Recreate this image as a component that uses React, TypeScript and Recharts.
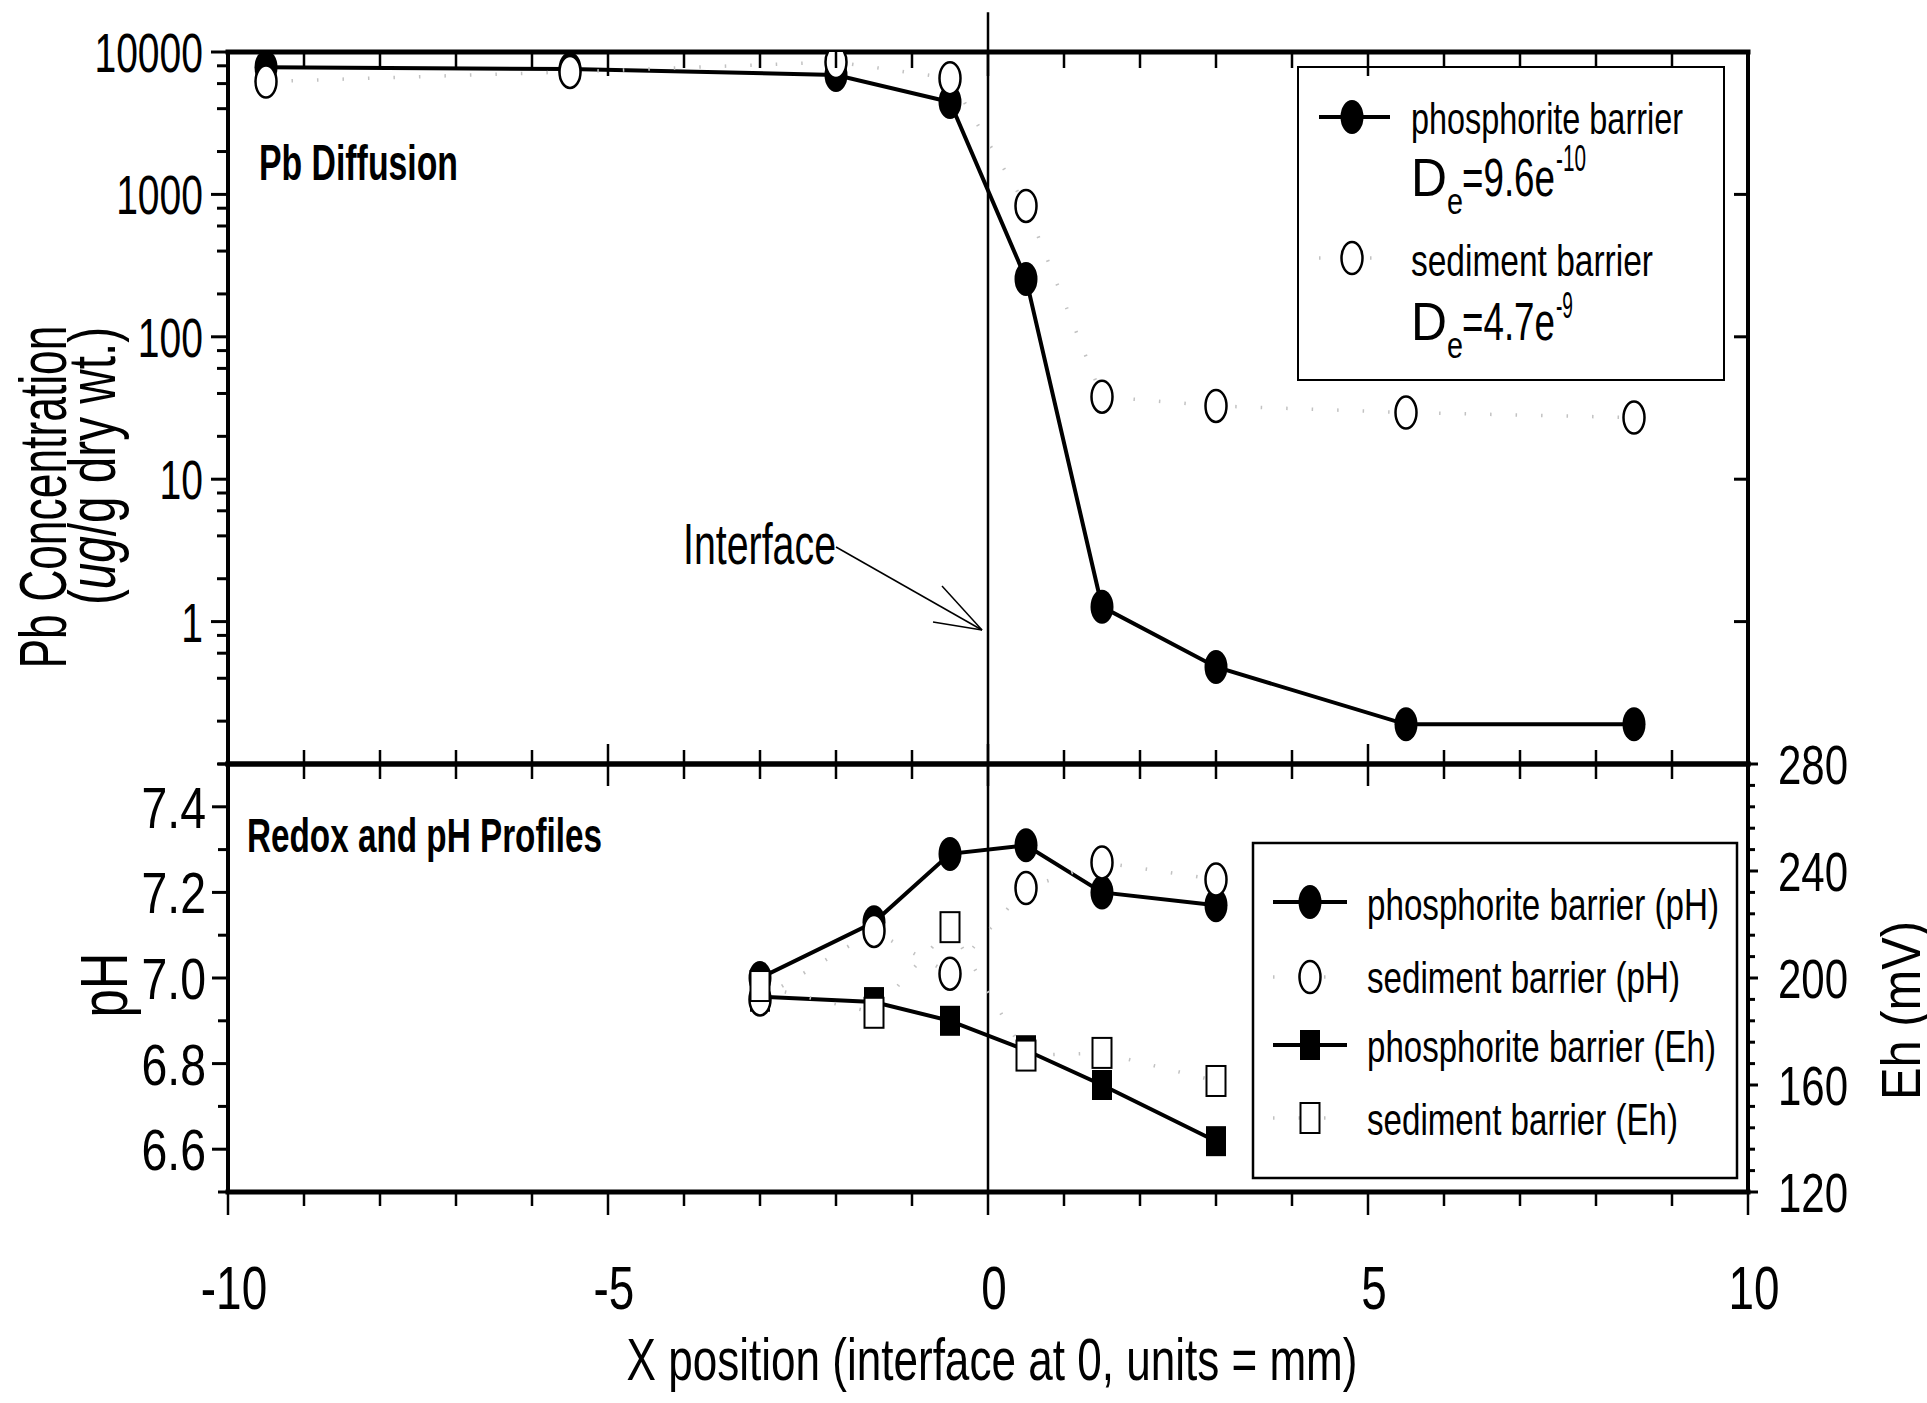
import { ComposedChart, Line, ReferenceLine, XAxis, YAxis } from "recharts";

// values
const pbX = [-9.5, -5.5, -2, -0.5, 0.5, 1.5, 3, 5.5, 8.5];
const pbPhosphorite = [7800, 7600, 6900, 4460, 255, 1.27, 0.48, 0.19, 0.19];
const pbSediment = [6200, 7250, 8500, 6550, 830, 38, 32.7, 29.4, 27.1];

const redoxX = [-3, -1.5, -0.5, 0.5, 1.5, 3];
const phPhosphorite = [7.0, 7.13, 7.29, 7.31, 7.2, 7.17];
const phSediment = [6.95, 7.11, 7.01, 7.21, 7.27, 7.23];
const ehPhosphorite = [193, 191, 184, 173, 160, 139];
const ehSediment = [197, 187, 219, 171, 172, 161.5];

const xTicks = [-10, -9, -8, -7, -6, -5, -4, -3, -2, -1, 0, 1, 2, 3, 4, 5, 6, 7, 8, 9, 10];
const xTickLabels = [-10, -5, 0, 5, 10];
const pbTicks = [
  0.1, 0.2, 0.4, 0.6, 0.8, 1, 2, 4, 6, 8, 10, 20, 40, 60, 80, 100, 200, 400, 600, 800,
  1000, 2000, 4000, 6000, 8000, 10000,
];
const pbTickLabels = [1, 10, 100, 1000, 10000];
const phTicks = [6.5, 6.6, 6.7, 6.8, 6.9, 7.0, 7.1, 7.2, 7.3, 7.4, 7.5];
const phTickLabels = [6.6, 6.8, 7.0, 7.2, 7.4];
const ehTicks = [
  120, 128, 136, 144, 152, 160, 168, 176, 184, 192, 200, 208, 216, 224, 232, 240, 248, 256,
  264, 272, 280,
];
const ehTickLabels = [120, 160, 200, 240, 280];

const pbRows = pbX.map((x, i) => ({ x, phos: pbPhosphorite[i], sed: pbSediment[i] }));
const redoxRows = redoxX.map((x, i) => ({
  x,
  phPhos: phPhosphorite[i],
  phSed: phSediment[i],
  ehPhos: ehPhosphorite[i],
  ehSed: ehSediment[i],
}));

const FONT = '"Liberation Sans", Arial, Helvetica, sans-serif';
const W = 1927;
const H = 1403;
const PLOT_L = 228;
const PLOT_R = 1748;
const TOP_T = 52;
const MID = 764;
const BOT_B = 1192;
const AX_W = 60; // reserved y-axis width
const AX_H = 30; // reserved x-axis height

// the sediment fits are a faint, sparse dotted gray
const DOTTED = { stroke: "#c2c2c2", strokeWidth: 3.5, strokeDasharray: "1.5 24" };
const frameH = { stroke: "#000", strokeWidth: 5, strokeLinecap: "square" as const };
const frameV = { stroke: "#000", strokeWidth: 4, strokeLinecap: "square" as const };

// the original typeface is very squeezed; approximate Arial widths, then compress
const numWidth = (s: string, size: number, k: number) =>
  [...s].reduce((a, c) => a + (c === "." ? 0.278 : c === "-" ? 0.333 : 0.556), 0) * size * k;

function Txt(props: any) {
  const { x, y, size, w, anchor = "start", weight = 400, rotate = false, children } = props;
  return (
    <text
      x={x}
      y={y}
      fontSize={size}
      fontFamily={FONT}
      fontWeight={weight}
      fill="#000"
      textAnchor={anchor}
      textLength={w}
      lengthAdjust="spacingAndGlyphs"
      transform={rotate ? `rotate(-90 ${x} ${y})` : undefined}
    >
      {children}
    </text>
  );
}

// tick renderers: tickSize/tickMargin are 0 so (x, y) sits on the axis line
function XInTick(props: any) {
  const { x, y, payload, dir, major = 24, minor = 16 } = props;
  const len = xTickLabels.includes(payload.value) ? major : minor;
  return <line x1={x} x2={x} y1={y} y2={y + dir * len} stroke="#000" strokeWidth={2.5} />;
}

function XOutTick(props: any) {
  const { x, y, payload } = props;
  const v = payload.value;
  const major = xTickLabels.includes(v);
  const s = String(v);
  return (
    <g>
      <line x1={x} x2={x} y1={y} y2={y + (major ? 23 : 14)} stroke="#000" strokeWidth={2.5} />
      {major && (
        <Txt x={x + 6} y={y + 117} size={62} w={numWidth(s, 62, 0.74)} anchor="middle">
          {s}
        </Txt>
      )}
    </g>
  );
}

function PbLeftTick(props: any) {
  const { x, y, payload } = props;
  const v = payload.value;
  const major = pbTickLabels.includes(v);
  const s = String(v);
  return (
    <g>
      <line x1={x - (major ? 17 : 11)} x2={x} y1={y} y2={y} stroke="#000" strokeWidth={3} />
      {major && (
        <Txt x={x - 25} y={y + 20} size={55} w={numWidth(s, 55, 0.71)} anchor="end">
          {s}
        </Txt>
      )}
    </g>
  );
}

function PbRightTick(props: any) {
  const { x, y, payload } = props;
  if (!pbTickLabels.includes(payload.value)) return <g />;
  return <line x1={x - 14} x2={x} y1={y} y2={y} stroke="#000" strokeWidth={3} />;
}

function PhTick(props: any) {
  const { x, y, payload } = props;
  const v = payload.value;
  const major = phTickLabels.includes(v);
  const s = v.toFixed(1);
  return (
    <g>
      <line x1={x - (major ? 16 : 10)} x2={x} y1={y} y2={y} stroke="#000" strokeWidth={3} />
      {major && (
        <Txt x={x - 22} y={y + 21} size={58} w={numWidth(s, 58, 0.8)} anchor="end">
          {s}
        </Txt>
      )}
    </g>
  );
}

function EhTick(props: any) {
  const { x, y, payload } = props;
  const v = payload.value;
  const major = ehTickLabels.includes(v);
  const s = String(v);
  return (
    <g>
      <line x1={x} x2={x + (major ? 10 : 7)} y1={y} y2={y} stroke="#000" strokeWidth={3} />
      {major && (
        <Txt x={x + 30} y={y + 20} size={56} w={numWidth(s, 56, 0.75)}>
          {s}
        </Txt>
      )}
    </g>
  );
}

const filledCircle = (p: any) =>
  p.cx == null ? <g key={p.index} /> : <ellipse key={p.index} cx={p.cx} cy={p.cy} rx={11.5} ry={17} fill="#000" />;
const openCircle = (p: any) =>
  p.cx == null ? <g key={p.index} /> : (
    <ellipse key={p.index} cx={p.cx} cy={p.cy} rx={10.5} ry={16} fill="#fff" stroke="#000" strokeWidth={2.5} />
  );
const filledSquare = (p: any) =>
  p.cx == null ? <g key={p.index} /> : <rect key={p.index} x={p.cx - 10} y={p.cy - 15} width={20} height={30} fill="#000" />;
const openSquare = (p: any) =>
  p.cx == null ? <g key={p.index} /> : (
    <rect key={p.index} x={p.cx - 9.5} y={p.cy - 15} width={19} height={30} fill="#fff" stroke="#000" strokeWidth={2} />
  );

const xAxisCommon = {
  dataKey: "x",
  type: "number" as const,
  domain: [-10, 10],
  ticks: xTicks,
  interval: 0,
  height: AX_H,
  tickSize: 0,
  tickMargin: 0,
  allowDataOverflow: true,
  axisLine: frameH,
};

const yAxisCommon = {
  type: "number" as const,
  interval: 0,
  width: AX_W,
  tickSize: 0,
  tickMargin: 0,
  allowDataOverflow: true,
  axisLine: frameV,
};

function PbChart() {
  return (
    <ComposedChart
      width={W}
      height={H}
      data={pbRows}
      margin={{
        top: TOP_T - AX_H,
        bottom: H - MID - AX_H,
        left: PLOT_L - AX_W,
        right: W - PLOT_R - AX_W,
      }}
    >
      <XAxis {...xAxisCommon} xAxisId="t" orientation="top" tick={<XInTick dir={1} />} />
      <XAxis {...xAxisCommon} xAxisId="b" orientation="bottom" tick={<XInTick dir={-1} major={20} minor={14} />} />
      <YAxis
        {...yAxisCommon}
        yAxisId="l"
        orientation="left"
        scale="log"
        domain={[0.1, 10000]}
        ticks={pbTicks}
        tick={<PbLeftTick />}
      />
      <YAxis
        {...yAxisCommon}
        yAxisId="r"
        orientation="right"
        scale="log"
        domain={[0.1, 10000]}
        ticks={pbTicks}
        tick={<PbRightTick />}
      />
      <ReferenceLine
        xAxisId="t"
        yAxisId="l"
        segment={[
          { x: 0, y: 0.1 },
          { x: 0, y: 19000 },
        ]}
        ifOverflow="visible"
        stroke="#000"
        strokeWidth={2.5}
      />
      <Line
        xAxisId="t"
        yAxisId="l"
        dataKey="phos"
        type="linear"
        stroke="#000"
        strokeWidth={4}
        dot={filledCircle}
        activeDot={false}
        isAnimationActive={false}
      />
      <Line
        xAxisId="t"
        yAxisId="l"
        dataKey="sed"
        type="linear"
        {...DOTTED}
        dot={openCircle}
        activeDot={false}
        isAnimationActive={false}
      />
    </ComposedChart>
  );
}

function RedoxChart() {
  return (
    <ComposedChart
      width={W}
      height={H}
      data={redoxRows}
      margin={{
        top: MID - AX_H,
        bottom: H - BOT_B - AX_H,
        left: PLOT_L - AX_W,
        right: W - PLOT_R - AX_W,
      }}
    >
      <XAxis {...xAxisCommon} xAxisId="t" orientation="top" tick={<XInTick dir={1} major={22} minor={15} />} />
      <XAxis {...xAxisCommon} xAxisId="b" orientation="bottom" tick={<XOutTick />} />
      <YAxis {...yAxisCommon} yAxisId="ph" orientation="left" domain={[6.5, 7.5]} ticks={phTicks} tick={<PhTick />} />
      <YAxis {...yAxisCommon} yAxisId="eh" orientation="right" domain={[120, 280]} ticks={ehTicks} tick={<EhTick />} />
      <ReferenceLine xAxisId="t" yAxisId="ph" x={0} stroke="#000" strokeWidth={2.5} />
      <Line xAxisId="t" yAxisId="ph" dataKey="phPhos" type="linear" stroke="#000" strokeWidth={4}
        dot={filledCircle} activeDot={false} isAnimationActive={false} />
      <Line xAxisId="t" yAxisId="eh" dataKey="ehPhos" type="linear" stroke="#000" strokeWidth={4}
        dot={filledSquare} activeDot={false} isAnimationActive={false} />
      <Line xAxisId="t" yAxisId="ph" dataKey="phSed" type="linear" {...DOTTED}
        dot={openCircle} activeDot={false} isAnimationActive={false} />
      <Line xAxisId="t" yAxisId="eh" dataKey="ehSed" type="linear" {...DOTTED}
        dot={openSquare} activeDot={false} isAnimationActive={false} />
    </ComposedChart>
  );
}

// titles, annotations and the two legend boxes
function Overlay() {
  const legendRowsBottom = [
    { y: 902, base: 920, w: 352, text: "phosphorite barrier (pH)", kind: "fc" },
    { y: 977, base: 993, w: 313, text: "sediment barrier (pH)", kind: "oc" },
    { y: 1045, base: 1062, w: 349, text: "phosphorite barrier (Eh)", kind: "fs" },
    { y: 1118, base: 1135, w: 311, text: "sediment barrier (Eh)", kind: "os" },
  ];
  return (
    <svg width={W} height={H} style={{ position: "absolute", left: 0, top: 0 }}>
      {/* axis titles */}
      <Txt x={66} y={497} size={66} w={343} anchor="middle" rotate>
        Pb Concentration
      </Txt>
      <text
        x={115}
        y={466}
        fontSize={66}
        fontFamily={FONT}
        textAnchor="middle"
        textLength={278}
        lengthAdjust="spacingAndGlyphs"
        transform="rotate(-90 115 466)"
      >
        (<tspan fontStyle="italic">ug</tspan>/g dry wt.)
      </text>
      <Txt x={127} y={985} size={66} w={65} anchor="middle" rotate>
        pH
      </Txt>
      <Txt x={1920} y={1100} size={56} w={179} rotate>
        Eh (mV)
      </Txt>
      <Txt x={992} y={1380} size={60} w={731} anchor="middle">
        X position (interface at 0, units = mm)
      </Txt>

      {/* panel labels */}
      <Txt x={259} y={180} size={50} w={199} weight={700}>
        Pb Diffusion
      </Txt>
      <Txt x={247} y={852} size={49} w={355} weight={700}>
        Redox and pH Profiles
      </Txt>

      {/* interface arrow */}
      <Txt x={683} y={564} size={58} w={153}>
        Interface
      </Txt>
      <g stroke="#000" strokeWidth={1.5}>
        <line x1={836} y1={547} x2={982} y2={630} />
        <line x1={982} y1={630} x2={942} y2={586} />
        <line x1={982} y1={630} x2={933} y2={622} />
      </g>

      {/* top legend */}
      <rect x={1298} y={67} width={426} height={313} fill="none" stroke="#000" strokeWidth={2} />
      <line x1={1319} x2={1390} y1={117} y2={117} stroke="#000" strokeWidth={4} />
      <ellipse cx={1352} cy={117} rx={11.5} ry={17} fill="#000" />
      <Txt x={1411} y={134} size={44} w={272}>
        phosphorite barrier
      </Txt>
      <Txt x={1411} y={196} size={54} w={36}>
        D
      </Txt>
      <Txt x={1447} y={214} size={36} w={16}>
        e
      </Txt>
      <Txt x={1462} y={196} size={54} w={93}>
        =9.6e
      </Txt>
      <Txt x={1556} y={171} size={36} w={30}>
        -10
      </Txt>
      <line x1={1319} x2={1390} y1={258} y2={258} {...DOTTED} />
      <ellipse cx={1352} cy={258} rx={10.5} ry={16} fill="#fff" stroke="#000" strokeWidth={2.5} />
      <Txt x={1411} y={276} size={44} w={242}>
        sediment barrier
      </Txt>
      <Txt x={1411} y={340} size={54} w={36}>
        D
      </Txt>
      <Txt x={1447} y={358} size={36} w={16}>
        e
      </Txt>
      <Txt x={1462} y={340} size={54} w={93}>
        =4.7e
      </Txt>
      <Txt x={1556} y={318} size={36} w={17}>
        -9
      </Txt>

      {/* bottom legend */}
      <rect x={1253} y={843} width={484} height={335} fill="none" stroke="#000" strokeWidth={2.5} />
      {legendRowsBottom.map((r) => (
        <g key={r.text}>
          {r.kind === "fc" || r.kind === "fs" ? (
            <line x1={1273} x2={1347} y1={r.y} y2={r.y} stroke="#000" strokeWidth={4} />
          ) : (
            <line x1={1273} x2={1347} y1={r.y} y2={r.y} {...DOTTED} />
          )}
          {r.kind === "fc" && <ellipse cx={1310} cy={r.y} rx={11.5} ry={17} fill="#000" />}
          {r.kind === "oc" && (
            <ellipse cx={1310} cy={r.y} rx={10.5} ry={16} fill="#fff" stroke="#000" strokeWidth={2.5} />
          )}
          {r.kind === "fs" && <rect x={1300} y={r.y - 15} width={20} height={30} fill="#000" />}
          {r.kind === "os" && (
            <rect x={1300.5} y={r.y - 15} width={19} height={30} fill="#fff" stroke="#000" strokeWidth={2} />
          )}
          <Txt x={1367} y={r.base} size={44} w={r.w}>
            {r.text}
          </Txt>
        </g>
      ))}
    </svg>
  );
}

export default function App() {
  return (
    <div style={{ position: "absolute", left: 0, top: 0, width: W, height: H, background: "#fff", overflow: "hidden" }}>
      <div style={{ position: "absolute", left: 0, top: 0 }}>
        <PbChart />
      </div>
      <div style={{ position: "absolute", left: 0, top: 0 }}>
        <RedoxChart />
      </div>
      <Overlay />
    </div>
  );
}
